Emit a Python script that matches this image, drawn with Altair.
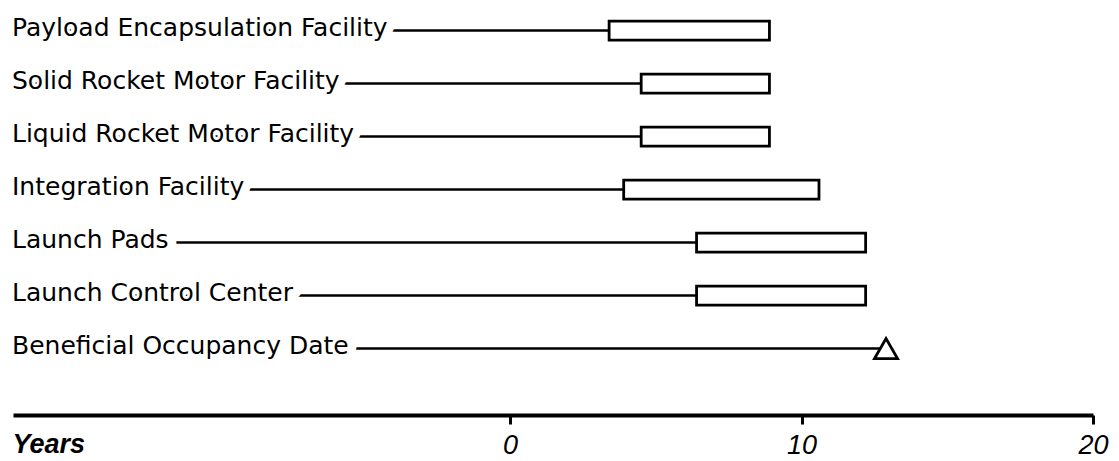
import altair as alt
import pandas as pd

labels = [
    "Payload Encapsulation Facility",
    "Solid Rocket Motor Facility",
    "Liquid Rocket Motor Facility",
    "Integration Facility",
    "Launch Pads",
    "Launch Control Center",
    "Beneficial Occupancy Date",
]
bar_start = [3.4, 4.5, 4.5, 3.9, 6.4, 6.4]
bar_end = [8.9, 8.9, 8.9, 10.6, 12.2, 12.2]
occupancy_year = 12.9
tick_years = [0, 10, 20]
axis_title = "Years"

rows = list(range(len(labels)))
lead_end = bar_start + [occupancy_year]

rows_df = pd.DataFrame({"label": labels, "row": rows, "lead": lead_end})
bars_df = pd.DataFrame({"label": labels[:6], "row": rows[:6],
                        "start": bar_start, "end": bar_end})
bod_df = pd.DataFrame({"label": [labels[6]], "row": [rows[6]],
                       "year": [occupancy_year]})

xscale = alt.Scale(domain=[-17.05, 20], nice=False, zero=False)
yscale = alt.Scale(domain=[-0.3313, 7.16], nice=False, zero=False, reverse=True)
xaxis = alt.Axis(
    values=tick_years, title=axis_title, grid=False,
    domainColor="black", domainWidth=4,
    tickColor="black", tickWidth=3, tickSize=9,
    labelFont="Liberation Sans", labelFontSize=27, labelFontStyle="italic",
    labelColor="black", labelPadding=8, labelFlush=False,
    titleFont="Liberation Sans", titleFontSize=27, titleFontStyle="italic",
    titleFontWeight="bold", titleColor="black", titleAnchor="start",
    titleAlign="left", titleBaseline="alphabetic", titleX=-1, titleY=37,
)
Y = alt.Y("row:Q", scale=yscale, axis=None)

leader = alt.Chart(rows_df).mark_rule(color="black", strokeWidth=2.5).encode(
    x=alt.X("lead:Q", scale=xscale, axis=xaxis),
    x2=alt.value(0),
    y=Y,
)
halo = alt.Chart(rows_df).mark_text(
    align="left", baseline="alphabetic", dy=5, font="DejaVu Sans", fontSize=25,
    fill="white", stroke="white", strokeWidth=18, strokeJoin="round",
).encode(x=alt.value(-1), y=Y, text="label:N")
text = alt.Chart(rows_df).mark_text(
    align="left", baseline="alphabetic", dy=5, font="DejaVu Sans", fontSize=25,
    color="black",
).encode(x=alt.value(-1), y=Y, text="label:N")
bars = alt.Chart(bars_df).mark_bar(
    orient="horizontal", size=19, fill="white", stroke="black", strokeWidth=2.8,
).encode(
    x=alt.X("start:Q", scale=xscale, axis=xaxis),
    x2="end:Q",
    y=Y,
)
tri = alt.Chart(bod_df).mark_point(
    shape="M-1,0.87L0,-0.87L1,0.87Z", size=529, filled=True, fill="white",
    stroke="black", strokeWidth=2.8, opacity=1,
).encode(
    x=alt.X("year:Q", scale=xscale, axis=xaxis),
    y=Y,
)

chart = alt.layer(leader, halo, text, bars, tri).properties(
    width=1080, height=407,
    autosize=alt.AutoSizeParams(type="none"),
    padding={"left": 5, "top": 0, "right": 18, "bottom": 46},
    background="white",
).configure_view(stroke=None)

chart.save("out.html", embed_options={"renderer": "svg", "actions": False})
